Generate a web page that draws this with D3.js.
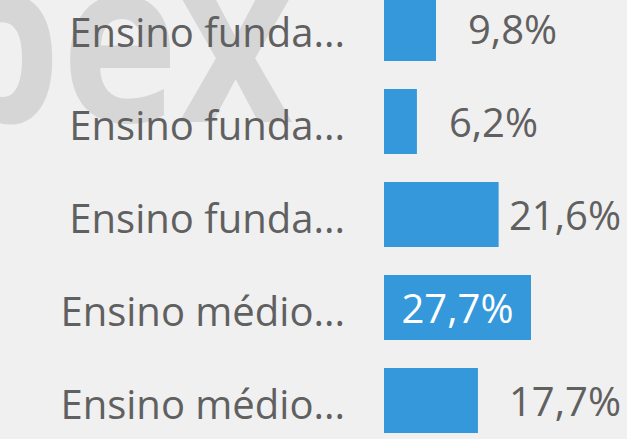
<!DOCTYPE html>
<html>
<head>
<meta charset="utf-8">
<script src="https://cdn.jsdelivr.net/npm/d3@7"></script>
<style>
  html, body { margin: 0; padding: 0; background: #f0f0f0; overflow: hidden; }
  svg { display: block; }
</style>
</head>
<body>
<svg id="chart" width="627" height="439"></svg>
<script>
// dados do gráfico
const categories = ["Ensino funda...", "Ensino funda...", "Ensino funda...", "Ensino médio...", "Ensino médio..."];
const values = [9.8, 6.2, 21.6, 27.7, 17.7];
const valueLabels = ["9,8%", "6,2%", "21,6%", "27,7%", "17,7%"];

const width = 627;
const height = 439;
const svg = d3.select("#chart");
const font = "'Open Sans', 'Noto Sans', sans-serif";

// marca d'água ao fundo
svg.append("text")
    .attr("transform", "translate(293,122) scale(0.87,1)")
    .attr("text-anchor", "end")
    .attr("font-family", font)
    .attr("font-weight", "bold")
    .attr("font-size", 228)
    .attr("fill", "#d6d6d6")
    .text("pex");

const idx = d3.range(categories.length);
const y = d3.scaleBand().domain(idx).range([-32, 461]).padding(0.301);
const x = d3.scaleLinear().domain([0, d3.max(values)]).range([384, 531]);

const rows = svg.append("g").selectAll("g.row")
    .data(idx)
    .enter()
    .append("g")
    .attr("class", "row");

rows.append("rect")
    .attr("x", x(0))
    .attr("y", i => y(i))
    .attr("width", i => x(values[i]) - x(0))
    .attr("height", y.bandwidth())
    .attr("fill", "#3498db");

rows.append("text")
    .attr("x", 345)
    .attr("y", i => y(i) + y.bandwidth() / 2 + 18.5)
    .attr("text-anchor", "end")
    .attr("font-family", font)
    .attr("font-size", 40)
    .attr("fill", "#606060")
    .text(i => categories[i]);

const rightEdge = 621;
rows.append("text")
    .attr("class", "val")
    .attr("y", i => y(i) + y.bandwidth() / 2 + 15.5)
    .attr("font-family", font)
    .attr("font-size", 40)
    .attr("fill", "#606060")
    .text(i => valueLabels[i])
    .each(function(i) {
        const t = d3.select(this);
        const w = this.getComputedTextLength();
        const x0 = x(0), x1 = x(values[i]);
        let start = x1 + 32;
        if (start + w > rightEdge) {
            if (x1 - x0 > w + 20) {
                // cabe dentro da barra
                t.attr("text-anchor", "middle").attr("x", (x0 + x1) / 2).attr("fill", "#ffffff");
                return;
            }
            start = rightEdge - w;
        }
        t.attr("x", start);
    });
</script>
</body>
</html>
